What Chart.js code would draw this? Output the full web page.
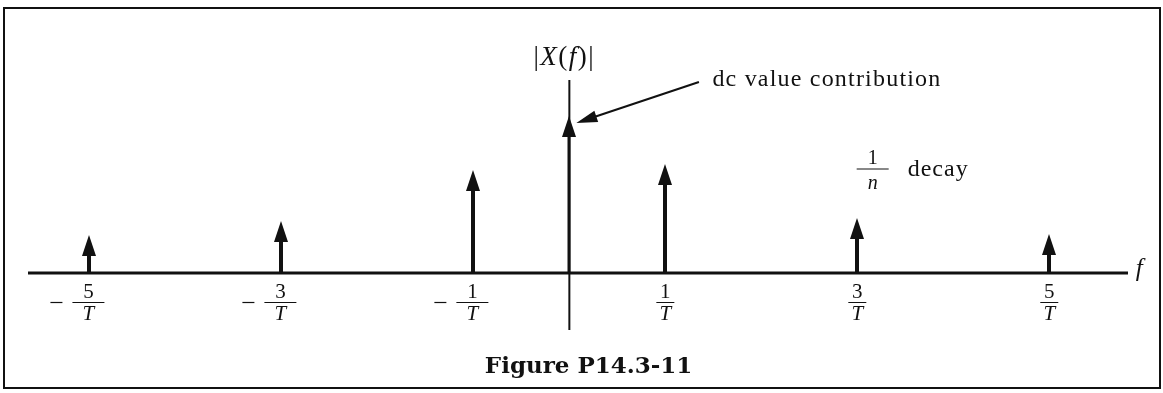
<!DOCTYPE html>
<html>
<head>
<meta charset="utf-8">
<title>Figure P14.3-11</title>
<script src="https://cdn.jsdelivr.net/npm/chart.js@4.4.0/dist/chart.umd.min.js"></script>
<style>
  html, body { margin: 0; padding: 0; background: #fff; }
  canvas { display: block; }
</style>
</head>
<body>
<canvas id="espectro" width="1163" height="393"></canvas>
<script>
// harmonics n (frequency n/T) and height of each impulse
const armonicos = [-5, -3, -1, 0, 1, 3, 5];
const magnitudes = [0.38, 0.52, 1.03, 1.57, 1.09, 0.55, 0.39];

// tick marks on the f axis, written as fractions  ±num / T
const ticksF = [-5, -3, -1, 1, 3, 5];
const ticksNum = ['5', '3', '1', '1', '3', '5'];
const ticksDen = 'T';

const serif = '"Liberation Serif", "Times New Roman", serif';
const tinta = '#111';

const linea = (ctx, x1, y1, x2, y2) => {
    ctx.beginPath();
    ctx.moveTo(x1, y1);
    ctx.lineTo(x2, y2);
    ctx.stroke();
};

const flecha = (ctx, x, yBase, yTip, ancho, cabeza) => {
    ctx.fillRect(x - ancho / 2, yTip + cabeza - 2, ancho, yBase - yTip - cabeza + 2);
    ctx.beginPath();
    ctx.moveTo(x, yTip);
    ctx.lineTo(x - 7, yTip + cabeza);
    ctx.lineTo(x + 7, yTip + cabeza);
    ctx.closePath();
    ctx.fill();
};

const impulsos = {
    id: 'impulsos',
    afterDraw(chart) {
        const { ctx, chartArea, scales: { x, y } } = chart;
        const y0 = y.getPixelForValue(0);
        const x0 = x.getPixelForValue(0);
        ctx.save();
        ctx.strokeStyle = tinta;
        ctx.fillStyle = tinta;

        // frame around the figure
        ctx.lineWidth = 2;
        ctx.strokeRect(4, 8, chart.width - 7, chart.height - 13);

        // f axis and |X(f)| axis
        ctx.lineWidth = 3;
        linea(ctx, chartArea.left, y0, chartArea.right, y0);
        ctx.lineWidth = 2;
        linea(ctx, x0, chartArea.top, x0, chartArea.bottom);

        // one arrow per harmonic
        const meta = chart.getDatasetMeta(0);
        meta.data.forEach((pt, i) => {
            const dc = armonicos[i] === 0;
            flecha(ctx, Math.round(pt.x), y0, pt.y, dc ? 3 : 4, 21);
        });

        // fraction labels under the axis
        ctx.textAlign = 'center';
        ctx.textBaseline = 'middle';
        ticksF.forEach((v, i) => {
            const px = x.getPixelForValue(v);
            const neg = v < 0;
            const cx = neg ? px - 1 : px;
            ctx.font = `21px ${serif}`;
            ctx.fillText(ticksNum[i], cx, y0 + 19);
            ctx.font = `italic 21px ${serif}`;
            ctx.fillText(ticksDen, cx, y0 + 41);
            ctx.lineWidth = 1;
            const medio = neg ? 16 : 9;
            linea(ctx, cx - medio, y0 + 29.5, cx + medio, y0 + 29.5);
            if (neg) {
                ctx.lineWidth = 1.2;
                linea(ctx, px - 39, y0 + 29.5, px - 27, y0 + 29.5);
            }
        });

        // axis names
        ctx.font = `italic 25px ${serif}`;
        ctx.textAlign = 'left';
        ctx.fillText('f', x.getPixelForValue(5.9), y.getPixelForValue(0.04));
        ctx.letterSpacing = '1.5px';
        const yEt = y.getPixelForValue(2.15);
        const partes = [['|', ''], ['X', 'italic '], ['(', ''], ['f', 'italic '], [')|', '']];
        let total = 0;
        partes.forEach(([t, s]) => { ctx.font = `${s}27px ${serif}`; total += ctx.measureText(t).width; });
        let cursor = x0 - 5 - total / 2;
        partes.forEach(([t, s]) => {
            ctx.font = `${s}27px ${serif}`;
            ctx.fillText(t, cursor, yEt);
            cursor += ctx.measureText(t).width;
        });

        // note pointing at the dc impulse
        const dcPt = meta.data[armonicos.indexOf(0)];
        const tx = dcPt.x + 7, ty = dcPt.y + 7;
        const sx = x.getPixelForValue(1.35), sy = y.getPixelForValue(1.91);
        const ang = Math.atan2(ty - sy, tx - sx);
        ctx.lineWidth = 2;
        linea(ctx, sx, sy, tx - 18 * Math.cos(ang), ty - 18 * Math.sin(ang));
        ctx.beginPath();
        ctx.moveTo(tx, ty);
        ctx.lineTo(tx - 21 * Math.cos(ang) + 6 * Math.sin(ang), ty - 21 * Math.sin(ang) - 6 * Math.cos(ang));
        ctx.lineTo(tx - 21 * Math.cos(ang) - 6 * Math.sin(ang), ty - 21 * Math.sin(ang) + 6 * Math.cos(ang));
        ctx.closePath();
        ctx.fill();
        ctx.letterSpacing = '1.2px';
        ctx.font = `24px ${serif}`;
        ctx.textBaseline = 'alphabetic';
        ctx.fillText('dc value contribution', x.getPixelForValue(1.49), y.getPixelForValue(1.87));

        // 1/n decay note
        const nx = x.getPixelForValue(3.16), ny = y.getPixelForValue(1.04);
        ctx.letterSpacing = '0px';
        ctx.textAlign = 'center';
        ctx.textBaseline = 'middle';
        ctx.font = `20px ${serif}`;
        ctx.fillText('1', nx, ny - 10);
        ctx.font = `italic 20px ${serif}`;
        ctx.fillText('n', nx, ny + 15);
        ctx.lineWidth = 1;
        linea(ctx, nx - 16, ny, nx + 16, ny);
        ctx.textAlign = 'left';
        ctx.textBaseline = 'alphabetic';
        ctx.letterSpacing = '1px';
        ctx.font = `24px ${serif}`;
        ctx.fillText('decay', nx + 35, ny + 7);

        // caption
        ctx.letterSpacing = '0px';
        ctx.textAlign = 'center';
        ctx.font = `bold 23px "DejaVu Serif", serif`;
        ctx.fillText('Figure P14.3-11', x.getPixelForValue(0.2), 373);
        ctx.restore();
    }
};

new Chart(document.getElementById('espectro'), {
    type: 'scatter',
    data: {
        datasets: [{
            label: '|X(f)|',
            data: armonicos.map((n, i) => ({ x: n, y: magnitudes[i] })),
            pointRadius: 0,
            showLine: false
        }]
    },
    options: {
        responsive: false,
        animation: false,
        layout: { padding: { left: 28, right: 35, top: 80, bottom: 63 } },
        scales: {
            x: { type: 'linear', min: -5.64, max: 5.82, display: false },
            y: { type: 'linear', min: -0.57, max: 1.93, display: false }
        },
        plugins: {
            legend: { display: false },
            tooltip: { enabled: false }
        }
    },
    plugins: [impulsos]
});
</script>
</body>
</html>
